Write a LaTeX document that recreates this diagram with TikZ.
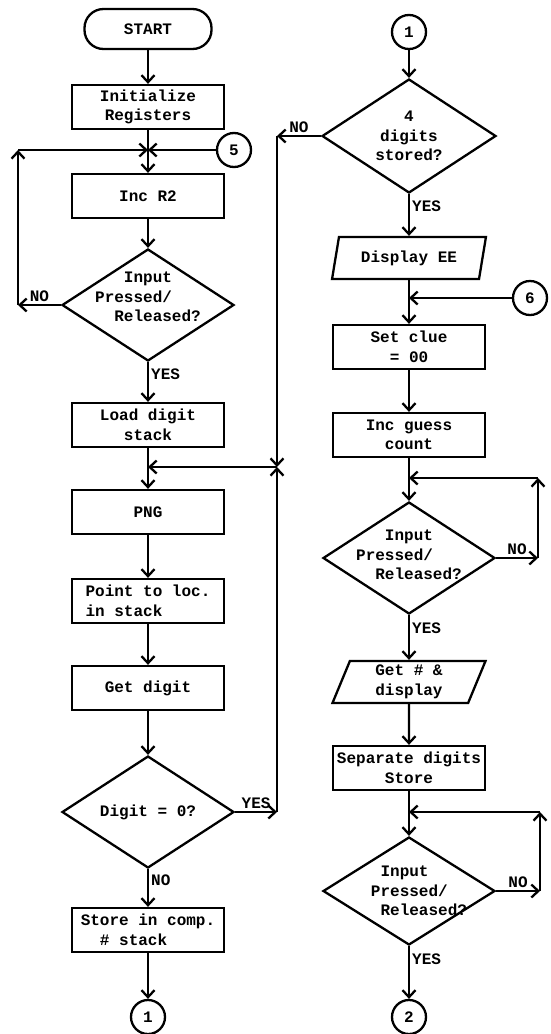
\documentclass[tikz,border=0pt]{standalone}
\usepackage{fontspec}
\setmonofont{Liberation Mono}
\usetikzlibrary{arrows.meta,shapes.geometric}
\begin{document}
\begin{tikzpicture}[x=1pt,y=-1pt,line width=2.3pt,>={Straight Barb[length=7pt,width=13pt]},
  every node/.style={font=\ttfamily\bfseries\fontsize{16}{19.5}\selectfont},
  term/.style={draw,rectangle,rounded corners=19pt,minimum width=127pt,minimum height=40pt},
  box/.style={draw,rectangle,align=center,minimum width=152pt,minimum height=44pt,inner sep=1pt},
  io/.style={draw,trapezium,trapezium left angle=74,trapezium right angle=106,trapezium stretches=true,align=center,minimum width=154pt,minimum height=42pt,inner sep=1pt},
  decision/.style={draw,diamond,minimum width=172pt,minimum height=112pt,inner sep=0pt},
  conn/.style={draw,circle,minimum size=34pt,inner sep=0pt},
  lab/.style={inner sep=2pt}]
\useasboundingbox (0,0) rectangle (550,1034);
% left column
\node[term] (start) at (148,29) {START};
\node[box] (init) at (148,107) {Initialize\\Registers};
\coordinate (j5) at (148,150);
\node[conn] (c5) at (234,150) {5};
\coordinate (k1) at (18,150);
\coordinate (k2) at (18,305);
\node[box] (inc) at (148,196) {Inc R2};
\node[decision,label={[name=d1t,align=left,yshift=8pt]center:{\phantom{xxx}Input\\Pressed/\\\phantom{xx}Released?}}] (d1) at (148,305) {};
\node[box] (load) at (148,425) {Load digit\\stack};
\coordinate (j1) at (148,467);
\coordinate (m1) at (277,467);
\coordinate (m2) at (277,136);
\coordinate (m3) at (277,812);
\node[box] (png) at (148,512) {PNG};
\node[box,align=left] (point) at (148,601) {Point to loc.\\in stack};
\node[box] (getd) at (148,688) {Get digit};
\node[decision,label={[name=d2t]center:Digit = 0?}] (d2) at (148,812) {};
\node[box,align=left] (store) at (148,930) {Store in comp.\\\phantom{xx}\# stack};
\node[conn] (c1) at (148,1017) {1};
\draw[->] (start) -- (init);
\draw (init) -- (j5);
\draw[->] (j5) -- (inc);
\draw[->] (c5) -- (j5);
\draw[->] (inc) -- (d1);
\draw[->] (d1.west) -- node[lab,above]{NO} (k2);
\draw[->] (k2) -- (k1);
\draw[->] (k1) -- (j5);
\draw[->] (d1) -- node[lab,right,pos=.3]{YES} (load);
\draw (load) -- (j1);
\draw[->] (j1) -- (png);
\draw[->] (m1) -- (j1);
\draw[->] (png) -- (point);
\draw[->] (point) -- (getd);
\draw[->] (getd) -- (d2);
\draw[->] (d2.east) -- node[lab,above]{YES} (m3);
\draw[->] (m3) -- (m1);
\draw[->] (d2) -- node[lab,right,pos=.3]{NO} (store);
\draw[->] (store) -- (c1);
% right column
\node[conn] (c1r) at (409,32) {1};
\node[decision,minimum width=174pt,minimum height=114pt,label={[name=d3t,align=center]center:{4\\digits\\stored?}}] (d3) at (409,136) {};
\node[io] (disp) at (409,258) {Display EE};
\coordinate (j6) at (409,298);
\node[conn] (c6) at (530,298) {6};
\node[box] (clue) at (409,347) {Set clue\\= 00};
\node[box] (guess) at (409,435) {Inc guess\\count};
\coordinate (j7) at (409,478);
\coordinate (r1) at (538,478);
\coordinate (r2) at (538,558);
\node[decision,label={[name=d4t,align=left,yshift=3pt]center:{\phantom{xxx}Input\\Pressed/\\\phantom{xx}Released?}}] (d4) at (409,558) {};
\node[io] (getn) at (409,682) {Get \# \&\\display};
\node[box] (sep) at (409,768) {Separate digits\\Store};
\coordinate (j8) at (409,812);
\coordinate (r3) at (540,812);
\coordinate (r4) at (540,891);
\node[decision,minimum height=108pt,label={[name=d5t,align=left,xshift=10pt]center:{\phantom{x}Input\\Pressed/\\\phantom{x}Released?}}] (d5) at (409,891) {};
\node[conn] (c2) at (409,1017) {2};
\draw[->] (c1r) -- (d3);
\draw[->] (d3.west) -- node[lab,above]{NO} (m2);
\draw[->] (m2) -- (m1);
\draw[->] (d3) -- node[lab,right,pos=.3]{YES} (disp);
\draw (disp) -- (j6);
\draw[->] (c6) -- (j6);
\draw[->] (j6) -- (clue);
\draw[->] (clue) -- (guess);
\draw (guess) -- (j7);
\draw[->] (j7) -- (d4);
\draw[->] (d4.east) -- node[lab,above]{NO} (r2);
\draw[->] (r2) -- (r1);
\draw[->] (r1) -- (j7);
\draw[->] (d4) -- node[lab,right,pos=.3]{YES} (getn);
\draw[->] (getn) -- (sep);
\draw (sep) -- (j8);
\draw[->] (j8) -- (d5);
\draw[->] (d5.east) -- node[lab,above]{NO} (r4);
\draw[->] (r4) -- (r3);
\draw[->] (r3) -- (j8);
\draw[->] (d5) -- node[lab,right,pos=.25]{YES} (c2);
\end{tikzpicture}
\end{document}
